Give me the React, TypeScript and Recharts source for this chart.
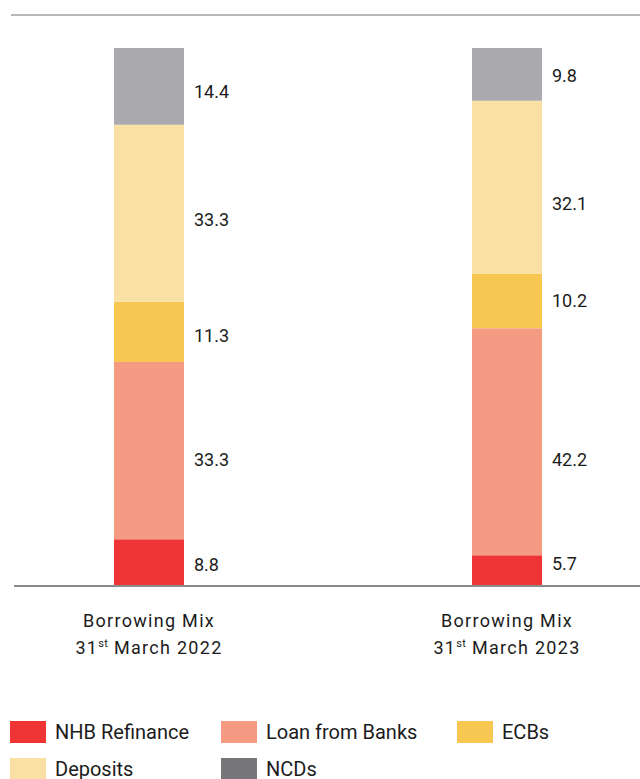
import React from "react";
import { BarChart, Bar, XAxis, YAxis, Legend, LabelList } from "recharts";

const categories = ["31st March 2022", "31st March 2023"];
const categoryTitle = "Borrowing Mix";
const nhbRefinance = [8.8, 5.7];
const loanFromBanks = [33.3, 42.2];
const ecbs = [11.3, 10.2];
const deposits = [33.3, 32.1];
const ncds = [14.4, 9.8];

// presentation: small vertical nudges of value labels (px), per category
const labelNudge: Record<string, number[]> = {
  nhb: [2, -7],
  loan: [9, 18],
  ecb: [4, 0],
  dep: [6, 16],
  ncd: [5, 1],
};

const series = [
  { key: "nhb", name: "NHB Refinance", values: nhbRefinance, fill: "#EE3434", legendFill: "#EE3434" },
  { key: "loan", name: "Loan from Banks", values: loanFromBanks, fill: "#F59B84", legendFill: "#F59B84" },
  { key: "ecb", name: "ECBs", values: ecbs, fill: "#F8C752", legendFill: "#F8C752" },
  { key: "dep", name: "Deposits", values: deposits, fill: "#FBE0A4", legendFill: "#FBE0A4" },
  { key: "ncd", name: "NCDs", values: ncds, fill: "#ABABAF", legendFill: "#77777B" },
];

const data = categories.map((c, i) => {
  const row: any = { category: c };
  series.forEach((s) => (row[s.key] = s.values[i]));
  return row;
});

const FONT = "Roboto, 'Noto Sans', sans-serif";
const TEXT = "#1c1c1c";

const CategoryTick = (props: any) => {
  const { x, y, payload } = props;
  const m = /^(\d+)(st|nd|rd|th)(.*)$/.exec(payload.value) || [];
  return (
    <g>
      <text x={x} y={y + 33} textAnchor="middle" fontSize={18} letterSpacing={1.3} fill={TEXT} fontFamily={FONT}>
        {categoryTitle}
      </text>
      <text x={x} y={y + 60} textAnchor="middle" fontSize={18} letterSpacing={1.3} fill={TEXT} fontFamily={FONT}>
        <tspan>{m[1]}</tspan>
        <tspan fontSize={11} dy={-7} letterSpacing={0.3}>{m[2]}</tspan>
        <tspan dy={7}>{m[3]}</tspan>
      </text>
    </g>
  );
};

const makeLabel = (key: string) => (props: any) => {
  const { x, y, width, height, value, index } = props;
  const dy = (labelNudge[key] || [])[index] || 0;
  return (
    <text
      x={x + width + 10}
      y={y + height / 2 + dy}
      dominantBaseline="central"
      fontSize={18}
      fill={TEXT}
      fontFamily={FONT}
    >
      {value}
    </text>
  );
};

const LegendContent = () => {
  const cols = [10, 221, 457];
  const rows = [8, 45];
  return (
    <div style={{ position: "relative", width: 640, height: 70, fontFamily: FONT }}>
      {series.map((s, i) => {
        const left = cols[i % 3];
        const top = rows[Math.floor(i / 3)];
        return (
          <div key={s.key} style={{ position: "absolute", left, top, height: 22, display: "flex", alignItems: "center" }}>
            <div style={{ width: 36, height: 22, background: s.legendFill }} />
            <span style={{ marginLeft: 9, fontSize: 20, lineHeight: "22px", color: TEXT, whiteSpace: "nowrap" }}>{s.name}</span>
          </div>
        );
      })}
    </div>
  );
};

export default function App() {
  return (
    <div style={{ position: "fixed", left: 0, top: 0, width: 640, height: 779, overflow: "hidden", background: "#fff" }}>
      <div style={{ position: "absolute", left: 11, right: 0, top: 14, height: 2, background: "#b8b8b8" }} />
      <div style={{ position: "absolute", left: 0, top: 0 }}>
        <BarChart
          width={640}
          height={783}
          data={data}
          stackOffset="expand"
          margin={{ top: 48, left: 14, right: 0, bottom: 0 }}
        >
          <XAxis
            dataKey="category"
            axisLine={{ stroke: "#8a8a8a", strokeWidth: 2 }}
            tickLine={false}
            tick={<CategoryTick />}
            height={127}
            padding={{ left: -44, right: -46 }}
            interval={0}
          />
          <YAxis hide domain={[0, 1]} />
          <Legend verticalAlign="bottom" content={<LegendContent />} wrapperStyle={{ left: 0, width: 640 }} />
          {series.map((s) => (
            <Bar key={s.key} dataKey={s.key} name={s.name} stackId="a" fill={s.fill} barSize={70} isAnimationActive={false}>
              <LabelList dataKey={s.key} content={makeLabel(s.key)} />
            </Bar>
          ))}
        </BarChart>
      </div>
    </div>
  );
}
